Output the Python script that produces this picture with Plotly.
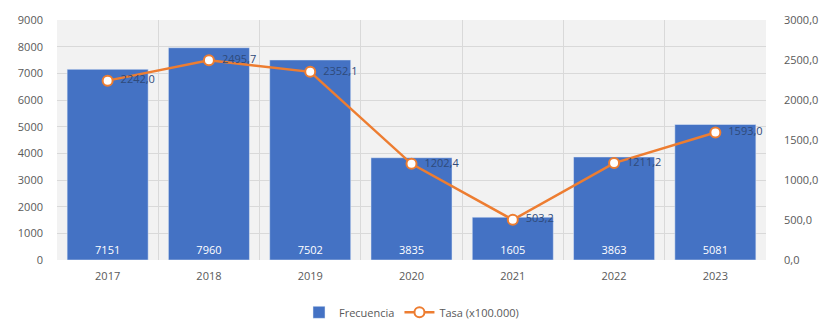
import plotly.graph_objects as go

years = ["2017", "2018", "2019", "2020", "2021", "2022", "2023"]
frecuencia = [7151, 7960, 7502, 3835, 1605, 3863, 5081]
tasa = [2242.0, 2495.7, 2352.1, 1202.4, 503.2, 1211.2, 1593.0]

# label text, comma decimal, pushed a little off the marker
tasa_labels = ["\u00a0\u00a0" + f"{v:.1f}".replace(".", ",") for v in tasa]

fig = go.Figure()

fig.add_trace(go.Bar(
    x=years, y=frecuencia, name="Frecuencia",
    marker=dict(color="#4472C4"),
    text=[str(v) for v in frecuencia],
    textposition="inside", insidetextanchor="start",
    textfont=dict(color="white", size=11, family="Open Sans"),
    width=0.8,
))

fig.add_trace(go.Scatter(
    x=years, y=tasa, name="Tasa (x100.000)", yaxis="y2",
    mode="lines+markers+text",
    line=dict(color="#ED7D31", width=2.5),
    marker=dict(size=10, color="white", line=dict(color="#ED7D31", width=2)),
    text=tasa_labels, textposition="middle right",
    textfont=dict(color="#2F4A7A", size=11, family="Open Sans"),
    cliponaxis=False,
))

fig.update_layout(
    width=823, height=322,
    margin=dict(l=57, r=57, t=20, b=62),
    paper_bgcolor="white",
    plot_bgcolor="#F2F2F2",
    separators=",.",
    font=dict(family="Open Sans", size=11, color="#595959"),
    bargap=0.2,
    xaxis=dict(
        type="category", tickson="boundaries", showgrid=True,
        gridcolor="#D9D9D9", ticks="", showline=False,
        ticklabelstandoff=8, automargin=False,
    ),
    yaxis=dict(
        range=[0, 9000], dtick=1000, gridcolor="#D9D9D9",
        tickformat="d", zeroline=False, ticklabelstandoff=13,
        automargin=False,
    ),
    yaxis2=dict(
        range=[0, 3000], dtick=500, overlaying="y", side="right",
        tickformat=".1f", showgrid=False, zeroline=False, ticklabelstandoff=17,
        automargin=False,
    ),
    legend=dict(
        orientation="h", x=0.5, xanchor="center",
        yref="container", y=0.03, yanchor="middle",
        font=dict(size=11, color="#595959"),
    ),
)

fig.write_html(
    "out.html",
    config={"displayModeBar": False},
    post_script="document.body.style.margin='0';document.body.style.overflow='hidden';",
)
